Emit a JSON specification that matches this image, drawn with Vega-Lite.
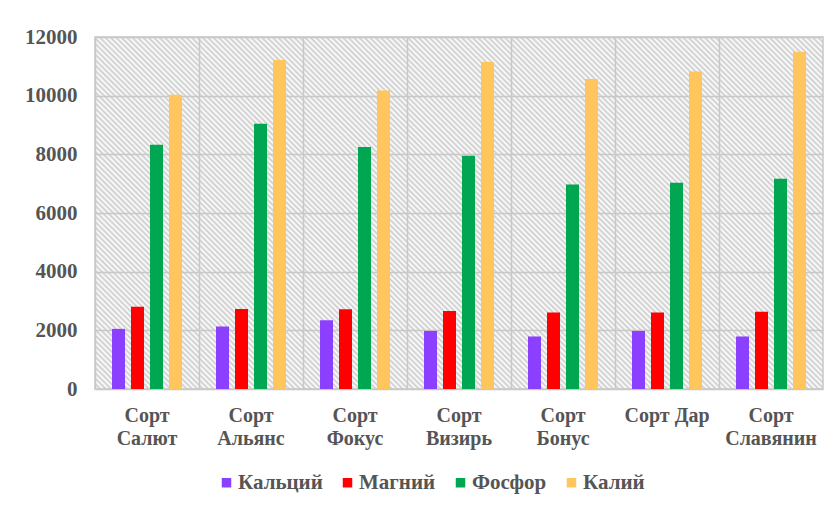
{
  "$schema": "https://vega.github.io/schema/vega-lite/v6.json",
  "width": 728,
  "height": 352,
  "autosize": {"type": "none"},
  "padding": {"left": 95, "top": 37, "right": 14, "bottom": 119},
  "background": "white",
  "config": {
    "font": "Liberation Serif",
    "view": {
      "stroke": "#c8c8c8",
      "strokeWidth": 1.5,
      "fill": {
        "gradient": "linear",
        "x1": 0, "y1": 1, "x2": 1.20241, "y2": 0.41861,
        "stops": [
{"offset":0,"color":"#cccccc"},{"offset":0.0025,"color":"#fff"},{"offset":0.005,"color":"#cccccc"},{"offset":0.0075,"color":"#fff"},
{"offset":0.01,"color":"#cccccc"},{"offset":0.0125,"color":"#fff"},{"offset":0.015,"color":"#cccccc"},{"offset":0.0175,"color":"#fff"},
{"offset":0.02,"color":"#cccccc"},{"offset":0.0225,"color":"#fff"},{"offset":0.025,"color":"#cccccc"},{"offset":0.0275,"color":"#fff"},
{"offset":0.03,"color":"#cccccc"},{"offset":0.0325,"color":"#fff"},{"offset":0.035,"color":"#cccccc"},{"offset":0.0375,"color":"#fff"},
{"offset":0.04,"color":"#cccccc"},{"offset":0.0425,"color":"#fff"},{"offset":0.045,"color":"#cccccc"},{"offset":0.0475,"color":"#fff"},
{"offset":0.05,"color":"#cccccc"},{"offset":0.0525,"color":"#fff"},{"offset":0.055,"color":"#cccccc"},{"offset":0.0575,"color":"#fff"},
{"offset":0.06,"color":"#cccccc"},{"offset":0.0625,"color":"#fff"},{"offset":0.065,"color":"#cccccc"},{"offset":0.0675,"color":"#fff"},
{"offset":0.07,"color":"#cccccc"},{"offset":0.0725,"color":"#fff"},{"offset":0.075,"color":"#cccccc"},{"offset":0.0775,"color":"#fff"},
{"offset":0.08,"color":"#cccccc"},{"offset":0.0825,"color":"#fff"},{"offset":0.085,"color":"#cccccc"},{"offset":0.0875,"color":"#fff"},
{"offset":0.09,"color":"#cccccc"},{"offset":0.0925,"color":"#fff"},{"offset":0.095,"color":"#cccccc"},{"offset":0.0975,"color":"#fff"},
{"offset":0.10,"color":"#cccccc"},{"offset":0.1025,"color":"#fff"},{"offset":0.105,"color":"#cccccc"},{"offset":0.1075,"color":"#fff"},
{"offset":0.11,"color":"#cccccc"},{"offset":0.1125,"color":"#fff"},{"offset":0.115,"color":"#cccccc"},{"offset":0.1175,"color":"#fff"},
{"offset":0.12,"color":"#cccccc"},{"offset":0.1225,"color":"#fff"},{"offset":0.125,"color":"#cccccc"},{"offset":0.1275,"color":"#fff"},
{"offset":0.13,"color":"#cccccc"},{"offset":0.1325,"color":"#fff"},{"offset":0.135,"color":"#cccccc"},{"offset":0.1375,"color":"#fff"},
{"offset":0.14,"color":"#cccccc"},{"offset":0.1425,"color":"#fff"},{"offset":0.145,"color":"#cccccc"},{"offset":0.1475,"color":"#fff"},
{"offset":0.15,"color":"#cccccc"},{"offset":0.1525,"color":"#fff"},{"offset":0.155,"color":"#cccccc"},{"offset":0.1575,"color":"#fff"},
{"offset":0.16,"color":"#cccccc"},{"offset":0.1625,"color":"#fff"},{"offset":0.165,"color":"#cccccc"},{"offset":0.1675,"color":"#fff"},
{"offset":0.17,"color":"#cccccc"},{"offset":0.1725,"color":"#fff"},{"offset":0.175,"color":"#cccccc"},{"offset":0.1775,"color":"#fff"},
{"offset":0.18,"color":"#cccccc"},{"offset":0.1825,"color":"#fff"},{"offset":0.185,"color":"#cccccc"},{"offset":0.1875,"color":"#fff"},
{"offset":0.19,"color":"#cccccc"},{"offset":0.1925,"color":"#fff"},{"offset":0.195,"color":"#cccccc"},{"offset":0.1975,"color":"#fff"},
{"offset":0.20,"color":"#cccccc"},{"offset":0.2025,"color":"#fff"},{"offset":0.205,"color":"#cccccc"},{"offset":0.2075,"color":"#fff"},
{"offset":0.21,"color":"#cccccc"},{"offset":0.2125,"color":"#fff"},{"offset":0.215,"color":"#cccccc"},{"offset":0.2175,"color":"#fff"},
{"offset":0.22,"color":"#cccccc"},{"offset":0.2225,"color":"#fff"},{"offset":0.225,"color":"#cccccc"},{"offset":0.2275,"color":"#fff"},
{"offset":0.23,"color":"#cccccc"},{"offset":0.2325,"color":"#fff"},{"offset":0.235,"color":"#cccccc"},{"offset":0.2375,"color":"#fff"},
{"offset":0.24,"color":"#cccccc"},{"offset":0.2425,"color":"#fff"},{"offset":0.245,"color":"#cccccc"},{"offset":0.2475,"color":"#fff"},
{"offset":0.25,"color":"#cccccc"},{"offset":0.2525,"color":"#fff"},{"offset":0.255,"color":"#cccccc"},{"offset":0.2575,"color":"#fff"},
{"offset":0.26,"color":"#cccccc"},{"offset":0.2625,"color":"#fff"},{"offset":0.265,"color":"#cccccc"},{"offset":0.2675,"color":"#fff"},
{"offset":0.27,"color":"#cccccc"},{"offset":0.2725,"color":"#fff"},{"offset":0.275,"color":"#cccccc"},{"offset":0.2775,"color":"#fff"},
{"offset":0.28,"color":"#cccccc"},{"offset":0.2825,"color":"#fff"},{"offset":0.285,"color":"#cccccc"},{"offset":0.2875,"color":"#fff"},
{"offset":0.29,"color":"#cccccc"},{"offset":0.2925,"color":"#fff"},{"offset":0.295,"color":"#cccccc"},{"offset":0.2975,"color":"#fff"},
{"offset":0.30,"color":"#cccccc"},{"offset":0.3025,"color":"#fff"},{"offset":0.305,"color":"#cccccc"},{"offset":0.3075,"color":"#fff"},
{"offset":0.31,"color":"#cccccc"},{"offset":0.3125,"color":"#fff"},{"offset":0.315,"color":"#cccccc"},{"offset":0.3175,"color":"#fff"},
{"offset":0.32,"color":"#cccccc"},{"offset":0.3225,"color":"#fff"},{"offset":0.325,"color":"#cccccc"},{"offset":0.3275,"color":"#fff"},
{"offset":0.33,"color":"#cccccc"},{"offset":0.3325,"color":"#fff"},{"offset":0.335,"color":"#cccccc"},{"offset":0.3375,"color":"#fff"},
{"offset":0.34,"color":"#cccccc"},{"offset":0.3425,"color":"#fff"},{"offset":0.345,"color":"#cccccc"},{"offset":0.3475,"color":"#fff"},
{"offset":0.35,"color":"#cccccc"},{"offset":0.3525,"color":"#fff"},{"offset":0.355,"color":"#cccccc"},{"offset":0.3575,"color":"#fff"},
{"offset":0.36,"color":"#cccccc"},{"offset":0.3625,"color":"#fff"},{"offset":0.365,"color":"#cccccc"},{"offset":0.3675,"color":"#fff"},
{"offset":0.37,"color":"#cccccc"},{"offset":0.3725,"color":"#fff"},{"offset":0.375,"color":"#cccccc"},{"offset":0.3775,"color":"#fff"},
{"offset":0.38,"color":"#cccccc"},{"offset":0.3825,"color":"#fff"},{"offset":0.385,"color":"#cccccc"},{"offset":0.3875,"color":"#fff"},
{"offset":0.39,"color":"#cccccc"},{"offset":0.3925,"color":"#fff"},{"offset":0.395,"color":"#cccccc"},{"offset":0.3975,"color":"#fff"},
{"offset":0.40,"color":"#cccccc"},{"offset":0.4025,"color":"#fff"},{"offset":0.405,"color":"#cccccc"},{"offset":0.4075,"color":"#fff"},
{"offset":0.41,"color":"#cccccc"},{"offset":0.4125,"color":"#fff"},{"offset":0.415,"color":"#cccccc"},{"offset":0.4175,"color":"#fff"},
{"offset":0.42,"color":"#cccccc"},{"offset":0.4225,"color":"#fff"},{"offset":0.425,"color":"#cccccc"},{"offset":0.4275,"color":"#fff"},
{"offset":0.43,"color":"#cccccc"},{"offset":0.4325,"color":"#fff"},{"offset":0.435,"color":"#cccccc"},{"offset":0.4375,"color":"#fff"},
{"offset":0.44,"color":"#cccccc"},{"offset":0.4425,"color":"#fff"},{"offset":0.445,"color":"#cccccc"},{"offset":0.4475,"color":"#fff"},
{"offset":0.45,"color":"#cccccc"},{"offset":0.4525,"color":"#fff"},{"offset":0.455,"color":"#cccccc"},{"offset":0.4575,"color":"#fff"},
{"offset":0.46,"color":"#cccccc"},{"offset":0.4625,"color":"#fff"},{"offset":0.465,"color":"#cccccc"},{"offset":0.4675,"color":"#fff"},
{"offset":0.47,"color":"#cccccc"},{"offset":0.4725,"color":"#fff"},{"offset":0.475,"color":"#cccccc"},{"offset":0.4775,"color":"#fff"},
{"offset":0.48,"color":"#cccccc"},{"offset":0.4825,"color":"#fff"},{"offset":0.485,"color":"#cccccc"},{"offset":0.4875,"color":"#fff"},
{"offset":0.49,"color":"#cccccc"},{"offset":0.4925,"color":"#fff"},{"offset":0.495,"color":"#cccccc"},{"offset":0.4975,"color":"#fff"},
{"offset":0.50,"color":"#cccccc"},{"offset":0.5025,"color":"#fff"},{"offset":0.505,"color":"#cccccc"},{"offset":0.5075,"color":"#fff"},
{"offset":0.51,"color":"#cccccc"},{"offset":0.5125,"color":"#fff"},{"offset":0.515,"color":"#cccccc"},{"offset":0.5175,"color":"#fff"},
{"offset":0.52,"color":"#cccccc"},{"offset":0.5225,"color":"#fff"},{"offset":0.525,"color":"#cccccc"},{"offset":0.5275,"color":"#fff"},
{"offset":0.53,"color":"#cccccc"},{"offset":0.5325,"color":"#fff"},{"offset":0.535,"color":"#cccccc"},{"offset":0.5375,"color":"#fff"},
{"offset":0.54,"color":"#cccccc"},{"offset":0.5425,"color":"#fff"},{"offset":0.545,"color":"#cccccc"},{"offset":0.5475,"color":"#fff"},
{"offset":0.55,"color":"#cccccc"},{"offset":0.5525,"color":"#fff"},{"offset":0.555,"color":"#cccccc"},{"offset":0.5575,"color":"#fff"},
{"offset":0.56,"color":"#cccccc"},{"offset":0.5625,"color":"#fff"},{"offset":0.565,"color":"#cccccc"},{"offset":0.5675,"color":"#fff"},
{"offset":0.57,"color":"#cccccc"},{"offset":0.5725,"color":"#fff"},{"offset":0.575,"color":"#cccccc"},{"offset":0.5775,"color":"#fff"},
{"offset":0.58,"color":"#cccccc"},{"offset":0.5825,"color":"#fff"},{"offset":0.585,"color":"#cccccc"},{"offset":0.5875,"color":"#fff"},
{"offset":0.59,"color":"#cccccc"},{"offset":0.5925,"color":"#fff"},{"offset":0.595,"color":"#cccccc"},{"offset":0.5975,"color":"#fff"},
{"offset":0.60,"color":"#cccccc"},{"offset":0.6025,"color":"#fff"},{"offset":0.605,"color":"#cccccc"},{"offset":0.6075,"color":"#fff"},
{"offset":0.61,"color":"#cccccc"},{"offset":0.6125,"color":"#fff"},{"offset":0.615,"color":"#cccccc"},{"offset":0.6175,"color":"#fff"},
{"offset":0.62,"color":"#cccccc"},{"offset":0.6225,"color":"#fff"},{"offset":0.625,"color":"#cccccc"},{"offset":0.6275,"color":"#fff"},
{"offset":0.63,"color":"#cccccc"},{"offset":0.6325,"color":"#fff"},{"offset":0.635,"color":"#cccccc"},{"offset":0.6375,"color":"#fff"},
{"offset":0.64,"color":"#cccccc"},{"offset":0.6425,"color":"#fff"},{"offset":0.645,"color":"#cccccc"},{"offset":0.6475,"color":"#fff"},
{"offset":0.65,"color":"#cccccc"},{"offset":0.6525,"color":"#fff"},{"offset":0.655,"color":"#cccccc"},{"offset":0.6575,"color":"#fff"},
{"offset":0.66,"color":"#cccccc"},{"offset":0.6625,"color":"#fff"},{"offset":0.665,"color":"#cccccc"},{"offset":0.6675,"color":"#fff"},
{"offset":0.67,"color":"#cccccc"},{"offset":0.6725,"color":"#fff"},{"offset":0.675,"color":"#cccccc"},{"offset":0.6775,"color":"#fff"},
{"offset":0.68,"color":"#cccccc"},{"offset":0.6825,"color":"#fff"},{"offset":0.685,"color":"#cccccc"},{"offset":0.6875,"color":"#fff"},
{"offset":0.69,"color":"#cccccc"},{"offset":0.6925,"color":"#fff"},{"offset":0.695,"color":"#cccccc"},{"offset":0.6975,"color":"#fff"},
{"offset":0.70,"color":"#cccccc"},{"offset":0.7025,"color":"#fff"},{"offset":0.705,"color":"#cccccc"},{"offset":0.7075,"color":"#fff"},
{"offset":0.71,"color":"#cccccc"},{"offset":0.7125,"color":"#fff"},{"offset":0.715,"color":"#cccccc"},{"offset":0.7175,"color":"#fff"},
{"offset":0.72,"color":"#cccccc"},{"offset":0.7225,"color":"#fff"},{"offset":0.725,"color":"#cccccc"},{"offset":0.7275,"color":"#fff"},
{"offset":0.73,"color":"#cccccc"},{"offset":0.7325,"color":"#fff"},{"offset":0.735,"color":"#cccccc"},{"offset":0.7375,"color":"#fff"},
{"offset":0.74,"color":"#cccccc"},{"offset":0.7425,"color":"#fff"},{"offset":0.745,"color":"#cccccc"},{"offset":0.7475,"color":"#fff"},
{"offset":0.75,"color":"#cccccc"},{"offset":0.7525,"color":"#fff"},{"offset":0.755,"color":"#cccccc"},{"offset":0.7575,"color":"#fff"},
{"offset":0.76,"color":"#cccccc"},{"offset":0.7625,"color":"#fff"},{"offset":0.765,"color":"#cccccc"},{"offset":0.7675,"color":"#fff"},
{"offset":0.77,"color":"#cccccc"},{"offset":0.7725,"color":"#fff"},{"offset":0.775,"color":"#cccccc"},{"offset":0.7775,"color":"#fff"},
{"offset":0.78,"color":"#cccccc"},{"offset":0.7825,"color":"#fff"},{"offset":0.785,"color":"#cccccc"},{"offset":0.7875,"color":"#fff"},
{"offset":0.79,"color":"#cccccc"},{"offset":0.7925,"color":"#fff"},{"offset":0.795,"color":"#cccccc"},{"offset":0.7975,"color":"#fff"},
{"offset":0.80,"color":"#cccccc"},{"offset":0.8025,"color":"#fff"},{"offset":0.805,"color":"#cccccc"},{"offset":0.8075,"color":"#fff"},
{"offset":0.81,"color":"#cccccc"},{"offset":0.8125,"color":"#fff"},{"offset":0.815,"color":"#cccccc"},{"offset":0.8175,"color":"#fff"},
{"offset":0.82,"color":"#cccccc"},{"offset":0.8225,"color":"#fff"},{"offset":0.825,"color":"#cccccc"},{"offset":0.8275,"color":"#fff"},
{"offset":0.83,"color":"#cccccc"},{"offset":0.8325,"color":"#fff"},{"offset":0.835,"color":"#cccccc"},{"offset":0.8375,"color":"#fff"},
{"offset":0.84,"color":"#cccccc"},{"offset":0.8425,"color":"#fff"},{"offset":0.845,"color":"#cccccc"},{"offset":0.8475,"color":"#fff"},
{"offset":0.85,"color":"#cccccc"},{"offset":0.8525,"color":"#fff"},{"offset":0.855,"color":"#cccccc"},{"offset":0.8575,"color":"#fff"},
{"offset":0.86,"color":"#cccccc"},{"offset":0.8625,"color":"#fff"},{"offset":0.865,"color":"#cccccc"},{"offset":0.8675,"color":"#fff"},
{"offset":0.87,"color":"#cccccc"},{"offset":0.8725,"color":"#fff"},{"offset":0.875,"color":"#cccccc"},{"offset":0.8775,"color":"#fff"},
{"offset":0.88,"color":"#cccccc"},{"offset":0.8825,"color":"#fff"},{"offset":0.885,"color":"#cccccc"},{"offset":0.8875,"color":"#fff"},
{"offset":0.89,"color":"#cccccc"},{"offset":0.8925,"color":"#fff"},{"offset":0.895,"color":"#cccccc"},{"offset":0.8975,"color":"#fff"},
{"offset":0.90,"color":"#cccccc"},{"offset":0.9025,"color":"#fff"},{"offset":0.905,"color":"#cccccc"},{"offset":0.9075,"color":"#fff"},
{"offset":0.91,"color":"#cccccc"},{"offset":0.9125,"color":"#fff"},{"offset":0.915,"color":"#cccccc"},{"offset":0.9175,"color":"#fff"},
{"offset":0.92,"color":"#cccccc"},{"offset":0.9225,"color":"#fff"},{"offset":0.925,"color":"#cccccc"},{"offset":0.9275,"color":"#fff"},
{"offset":0.93,"color":"#cccccc"},{"offset":0.9325,"color":"#fff"},{"offset":0.935,"color":"#cccccc"},{"offset":0.9375,"color":"#fff"},
{"offset":0.94,"color":"#cccccc"},{"offset":0.9425,"color":"#fff"},{"offset":0.945,"color":"#cccccc"},{"offset":0.9475,"color":"#fff"},
{"offset":0.95,"color":"#cccccc"},{"offset":0.9525,"color":"#fff"},{"offset":0.955,"color":"#cccccc"},{"offset":0.9575,"color":"#fff"},
{"offset":0.96,"color":"#cccccc"},{"offset":0.9625,"color":"#fff"},{"offset":0.965,"color":"#cccccc"},{"offset":0.9675,"color":"#fff"},
{"offset":0.97,"color":"#cccccc"},{"offset":0.9725,"color":"#fff"},{"offset":0.975,"color":"#cccccc"},{"offset":0.9775,"color":"#fff"},
{"offset":0.98,"color":"#cccccc"},{"offset":0.9825,"color":"#fff"},{"offset":0.985,"color":"#cccccc"},{"offset":0.9875,"color":"#fff"},
{"offset":0.99,"color":"#cccccc"},{"offset":0.9925,"color":"#fff"},{"offset":0.995,"color":"#cccccc"},{"offset":0.9975,"color":"#fff"},
{"offset":1,"color":"#cccccc"}
        ]
      }
    },
    "axis": {
      "labelFont": "Liberation Serif",
      "labelFontWeight": "bold",
      "labelColor": "#555555",
      "ticks": false,
      "domain": false,
      "gridColor": "#c8c8c8",
      "gridWidth": 1.5,
      "gridOpacity": 1
    }
  },
  "data": {
    "values": [
      {"sort": "Сорт Салют", "element": "Кальций", "value": 2050},
      {"sort": "Сорт Салют", "element": "Магний", "value": 2800},
      {"sort": "Сорт Салют", "element": "Фосфор", "value": 8330},
      {"sort": "Сорт Салют", "element": "Калий", "value": 10030},
      {"sort": "Сорт Альянс", "element": "Кальций", "value": 2130},
      {"sort": "Сорт Альянс", "element": "Магний", "value": 2730},
      {"sort": "Сорт Альянс", "element": "Фосфор", "value": 9040},
      {"sort": "Сорт Альянс", "element": "Калий", "value": 11220},
      {"sort": "Сорт Фокус", "element": "Кальций", "value": 2340},
      {"sort": "Сорт Фокус", "element": "Магний", "value": 2720},
      {"sort": "Сорт Фокус", "element": "Фосфор", "value": 8250},
      {"sort": "Сорт Фокус", "element": "Калий", "value": 10180},
      {"sort": "Сорт Визирь", "element": "Кальций", "value": 1980},
      {"sort": "Сорт Визирь", "element": "Магний", "value": 2660},
      {"sort": "Сорт Визирь", "element": "Фосфор", "value": 7950},
      {"sort": "Сорт Визирь", "element": "Калий", "value": 11150},
      {"sort": "Сорт Бонус", "element": "Кальций", "value": 1790},
      {"sort": "Сорт Бонус", "element": "Магний", "value": 2610},
      {"sort": "Сорт Бонус", "element": "Фосфор", "value": 6970},
      {"sort": "Сорт Бонус", "element": "Калий", "value": 10570},
      {"sort": "Сорт Дар", "element": "Кальций", "value": 1980},
      {"sort": "Сорт Дар", "element": "Магний", "value": 2610},
      {"sort": "Сорт Дар", "element": "Фосфор", "value": 7030},
      {"sort": "Сорт Дар", "element": "Калий", "value": 10820},
      {"sort": "Сорт Славянин", "element": "Кальций", "value": 1790},
      {"sort": "Сорт Славянин", "element": "Магний", "value": 2630},
      {"sort": "Сорт Славянин", "element": "Фосфор", "value": 7170},
      {"sort": "Сорт Славянин", "element": "Калий", "value": 11500}
    ]
  },
  "mark": {"type": "bar"},
  "encoding": {
    "x": {
      "field": "sort",
      "type": "nominal",
      "sort": null,
      "scale": {"paddingInner": 0, "paddingOuter": 0},
      "axis": {
        "title": null,
        "labelAngle": 0,
        "grid": true,
        "bandPosition": 0,
        "labelExpr": "length(datum.label) > 9 ? split(datum.label, ' ') : datum.label",
        "labelFontSize": 20,
        "labelPadding": 16,
        "labelLineHeight": 23,
        "labelBaseline": "top"
      }
    },
    "xOffset": {
      "field": "element",
      "type": "nominal",
      "scale": {
        "domain": ["Кальций", "Магний", "Фосфор", "Калий"],
        "paddingInner": 0.316,
        "paddingOuter": 0.895
      }
    },
    "y": {
      "field": "value",
      "type": "quantitative",
      "scale": {"domain": [0, 12000]},
      "axis": {
        "title": null,
        "values": [0, 2000, 4000, 6000, 8000, 10000, 12000],
        "format": "d",
        "labelFontSize": 21,
        "labelPadding": 18
      }
    },
    "color": {
      "field": "element",
      "type": "nominal",
      "scale": {
        "domain": ["Кальций", "Магний", "Фосфор", "Калий"],
        "range": ["#8b40ff", "#ff0000", "#00a651", "#ffc65e"]
      },
      "legend": {
        "title": null,
        "orient": "none",
        "direction": "horizontal",
        "legendX": 121,
        "legendY": 435,
        "symbolType": "square",
        "symbolSize": 90,
        "symbolStrokeWidth": 0,
        "labelFont": "Liberation Serif",
        "labelFontWeight": "bold",
        "labelFontSize": 21,
        "labelColor": "#555555",
        "labelOffset": 1,
        "columnPadding": 14
      }
    }
  }
}
